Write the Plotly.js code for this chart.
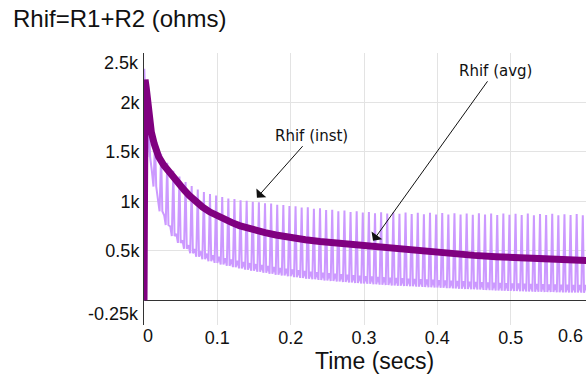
<!DOCTYPE html>
<html>
<head>
<meta charset="utf-8">
<script src="https://cdn.plot.ly/plotly-3.0.1.min.js"></script>
<style>
  html, body { margin: 0; padding: 0; background: #fff; }
  #chart { width: 586px; height: 377px; }
</style>
</head>
<body>
<div id="chart"></div>
<script>
// Averaged resistance Rhif = R1 + R2 (ohms) against time (s)
const avgTime = [0, 0.0005, 0.0015, 0.003, 0.005, 0.007, 0.01, 0.014, 0.02, 0.027, 0.034, 0.041,
  0.048, 0.055, 0.062, 0.07, 0.08, 0.09, 0.1, 0.11, 0.12, 0.13, 0.14, 0.15, 0.165, 0.18,
  0.2, 0.22, 0.24, 0.26, 0.28, 0.3, 0.33, 0.36, 0.39, 0.42, 0.45, 0.48, 0.51, 0.54, 0.57, 0.6, 0.605];
const avgOhms = [0, 2200, 2230, 2150, 1980, 1820, 1700, 1580, 1450, 1365, 1295, 1230,
  1170, 1112, 1058, 1002, 942, 892, 850, 815, 785, 755, 730, 706, 684, 660,
  632, 612, 595, 580, 565, 552, 528, 506, 486, 469, 454, 441, 430, 420, 411, 403, 402];

// Instantaneous resistance: start-up transient, then one entry per 120 Hz ripple cycle
const instHeadTime = [0, 0.0004, 0.0012];
const instHeadOhms = [0, 2340, 2150];
const ripplePeriod = 1 / 120;
const instPeak = [1800, 1600, 1480, 1390, 1310, 1250, 1195, 1155, 1120, 1095,
  1075, 1058, 1045, 1030, 1024, 1010, 1006, 996, 992, 980,
  977, 966, 962, 952, 950, 938, 940, 925, 930, 912,
  915, 900, 908, 893, 900, 886, 892, 880, 890, 876,
  888, 874, 886, 872, 885, 870, 884, 868, 882, 866,
  880, 868, 878, 864, 880, 866, 876, 862, 878, 864,
  874, 862, 876, 860, 872, 862, 874, 860, 870, 862, 872, 860, 868];
const instLow = [1450, 1150, 900, 760, 650, 580, 520, 475, 440, 415,
  395, 378, 362, 348, 335, 322, 310, 298, 288, 278,
  268, 258, 250, 242, 234, 226, 218, 212, 206, 200,
  195, 190, 185, 180, 175, 170, 166, 162, 158, 154,
  150, 147, 144, 141, 138, 135, 132, 129, 126, 123,
  120, 117, 114, 111, 108, 105, 102, 99, 97, 95,
  93, 91, 89, 87, 86, 84, 83, 81, 80, 79, 78, 77, 76];
const instBump = [1650, 1300, 1010, 860, 745, 670, 605, 558, 520, 494,
  472, 455, 440, 425, 412, 400, 388, 376, 366, 356,
  346, 336, 328, 320, 312, 304, 296, 290, 284, 278,
  273, 268, 263, 258, 253, 248, 244, 240, 236, 232,
  228, 225, 222, 219, 216, 213, 210, 207, 204, 201,
  198, 195, 192, 189, 186, 183, 180, 177, 175, 173,
  171, 169, 167, 165, 164, 162, 161, 159, 158, 157, 156, 155, 154];

// Y tick labels and X tick labels
const yTickVals = [500, 1000, 1500, 2000];
const yTickText = ['0.5k', '1k', '1.5k', '2k'];
const xTickVals = [0.1, 0.2, 0.3, 0.4, 0.5];
const xTickText = ['0.1', '0.2', '0.3', '0.4', '0.5'];

// Build the ripple waveform: bump, low, spike, low within each cycle
const instTime = instHeadTime.slice();
const instOhms = instHeadOhms.slice();
for (let k = 0; k < instPeak.length; k++) {
  const t0 = k * ripplePeriod;
  instTime.push(t0 + 0.3 * ripplePeriod, t0 + 0.55 * ripplePeriod, t0 + 0.8 * ripplePeriod, t0 + ripplePeriod);
  instOhms.push(instBump[k], instLow[k], instPeak[k], instLow[k]);
}

const traces = [
  {
    x: instTime, y: instOhms, type: 'scatter', mode: 'lines', name: 'Rhif (inst)',
    line: { color: 'rgb(204,153,255)', width: 2 }, hoverinfo: 'skip'
  },
  {
    x: avgTime, y: avgOhms, type: 'scatter', mode: 'lines', name: 'Rhif (avg)',
    line: { color: 'rgb(128,0,128)', width: 7 }, hoverinfo: 'skip'
  }
];

const tickFont = { family: 'Liberation Sans, Arial, sans-serif', size: 18, color: '#111' };
const noteFont = { family: 'DejaVu Sans, Verdana, sans-serif', size: 15, color: '#111' };

const layout = {
  width: 586, height: 377,
  margin: { l: 144, r: 0, t: 53, b: 52 },
  paper_bgcolor: '#fff', plot_bgcolor: '#fff',
  showlegend: false,
  title: {
    text: 'Rhif=R1+R2 (ohms)', xref: 'container', yref: 'container',
    x: 13 / 586, xanchor: 'left', y: 1 - 19 / 377, yanchor: 'middle',
    font: { family: 'Liberation Sans, Arial, sans-serif', size: 24, color: '#111' }
  },
  xaxis: {
    range: [0, 0.6027], tickvals: xTickVals, ticktext: xTickText,
    showgrid: true, gridcolor: '#e3e3e3', gridwidth: 1,
    zeroline: false, showline: false, ticks: '', tickfont: tickFont
  },
  yaxis: {
    range: [-250, 2500], tickvals: yTickVals, ticktext: yTickText,
    showgrid: true, gridcolor: '#e3e3e3', gridwidth: 1,
    zeroline: true, zerolinecolor: '#333', zerolinewidth: 1,
    showline: true, linecolor: '#333', linewidth: 1, ticks: '', tickfont: tickFont
  },
  annotations: [
    { text: '2.5k', xref: 'paper', yref: 'paper', x: 0, y: 1, xanchor: 'right', yanchor: 'middle',
      xshift: -3, yshift: -10, showarrow: false, font: tickFont },
    { text: '-0.25k', xref: 'paper', yref: 'paper', x: 0, y: 0, xanchor: 'right', yanchor: 'middle',
      xshift: -3, yshift: 11, showarrow: false, font: tickFont },
    { text: '0', xref: 'paper', yref: 'paper', x: 0, y: 0, xanchor: 'center', yanchor: 'middle',
      xshift: 4, yshift: -11, showarrow: false, font: tickFont },
    { text: '0.6', xref: 'paper', yref: 'paper', x: 1, y: 0, xanchor: 'right', yanchor: 'middle',
      xshift: -1, yshift: -11, showarrow: false, font: tickFont },
    { text: 'Time (secs)', xref: 'paper', yref: 'paper', x: (374 - 144) / 442, y: 0,
      xanchor: 'center', yanchor: 'middle', yshift: -36, showarrow: false,
      font: { family: 'Liberation Sans, Arial, sans-serif', size: 23, color: '#111' } },
    { text: 'Rhif (inst)', x: 0.154, y: 1037, xref: 'x', yref: 'y', ax: 55, ay: -62,
      showarrow: true, arrowhead: 1, arrowsize: 2.2, arrowwidth: 1, arrowcolor: '#111', font: noteFont },
    { text: 'Rhif (avg)', x: 0.3123, y: 601, xref: 'x', yref: 'y', ax: 122, ay: -170,
      showarrow: true, arrowhead: 1, arrowsize: 2.2, arrowwidth: 1, arrowcolor: '#111', font: noteFont }
  ]
};

Plotly.newPlot('chart', traces, layout, { displayModeBar: false, staticPlot: true });
</script>
</body>
</html>
